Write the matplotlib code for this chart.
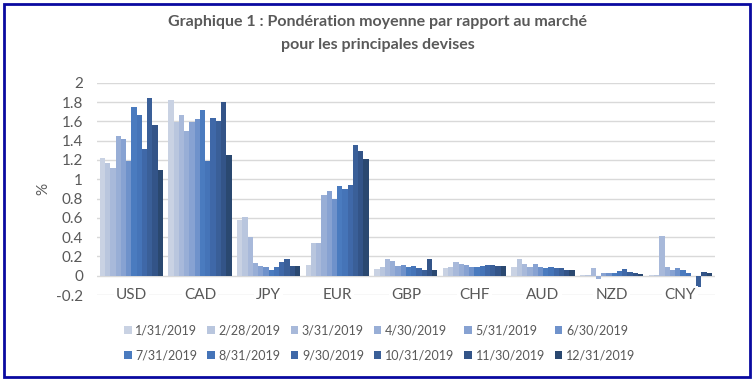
import matplotlib
matplotlib.use("Agg")
import matplotlib.pyplot as plt
import numpy as np
from matplotlib.patches import Rectangle

plt.rcParams["font.family"] = ["Lato", "DejaVu Sans"]

currencies = ["USD", "CAD", "JPY", "EUR", "GBP", "CHF", "AUD", "NZD", "CNY"]
dates = ["1/31/2019", "2/28/2019", "3/31/2019", "4/30/2019", "5/31/2019",
         "6/30/2019", "7/31/2019", "8/31/2019", "9/30/2019", "10/31/2019",
         "11/30/2019", "12/31/2019"]

# one list per currency, 12 months
usd = [1.22, 1.17, 1.12, 1.45, 1.42, 1.19, 1.75, 1.67, 1.31, 1.84, 1.56, 1.10]
cad = [1.82, 1.59, 1.67, 1.50, 1.59, 1.62, 1.72, 1.19, 1.63, 1.60, 1.80, 1.25]
jpy = [0.58, 0.61, 0.40, 0.13, 0.10, 0.09, 0.055, 0.09, 0.14, 0.17, 0.10, 0.10]
eur = [0.11, 0.34, 0.34, 0.84, 0.88, 0.80, 0.93, 0.90, 0.94, 1.35, 1.29, 1.21]
gbp = [0.07, 0.09, 0.17, 0.15, 0.10, 0.11, 0.09, 0.10, 0.08, 0.06, 0.17, 0.06]
chf = [0.08, 0.09, 0.14, 0.12, 0.11, 0.09, 0.09, 0.10, 0.11, 0.11, 0.10, 0.10]
aud = [0.09, 0.17, 0.12, 0.09, 0.12, 0.09, 0.08, 0.09, 0.08, 0.08, 0.06, 0.06]
nzd = [0.01, 0.01, 0.08, -0.03, 0.03, 0.03, 0.03, 0.05, 0.07, 0.04, 0.03, 0.02]
cny = [0.01, 0.01, 0.41, 0.09, 0.06, 0.08, 0.06, 0.03, 0.00, -0.12, 0.04, 0.03]

colors = ["#C9D2E3", "#B9C6DE", "#A8B9DA", "#98AED6", "#87A2D2", "#6F92CB",
          "#4A7BBF", "#4574B8", "#3F68A8", "#3A5F98", "#335488", "#2A4870"]

values = np.array([usd, cad, jpy, eur, gbp, chf, aud, nzd, cny])
text_color = "#595959"

fig = plt.figure(figsize=(7.55, 3.81), dpi=100)
ax = fig.add_axes([0.1285, 0.2257, 0.818, 0.557])

n = len(dates)
group_w = 0.92
w = group_w / n
x = np.arange(len(currencies))
handles = []
for i in range(n):
    b = ax.bar(x - group_w / 2 + w * (i + 0.5), values[:, i], w,
               color=colors[i], label=dates[i], linewidth=0, zorder=3)
    handles.append(b)

ax.set_xlim(-0.5, len(currencies) - 0.5)
ax.set_ylim(-0.2, 2)
ax.set_yticks(np.arange(-0.2, 2.01, 0.2))
ax.set_yticklabels(["-0.2", "0", "0.2", "0.4", "0.6", "0.8", "1", "1.2",
                    "1.4", "1.6", "1.8", "2"])
ax.tick_params(axis="y", length=0, pad=10, labelsize=11, colors=text_color)
ax.set_xticks([])
ax.grid(axis="y", color="#D9D9D9", linewidth=1, zorder=0)
for s in ax.spines.values():
    s.set_visible(False)

for xi, c in zip(x, currencies):
    ax.text(xi, -0.2, c, ha="center", va="center", fontsize=11,
            color=text_color, zorder=4,
            bbox=dict(facecolor="white", edgecolor="none", pad=1.5))

ax.set_ylabel("%", fontsize=11, color=text_color, labelpad=4)

fig.text(0.5, 0.942, "Graphique 1 : Pondération moyenne par rapport au marché",
         ha="center", va="center", fontsize=11.5, fontweight="bold",
         color=text_color)
fig.text(0.5, 0.882, "pour les principales devises",
         ha="center", va="center", fontsize=11.5, fontweight="bold",
         color=text_color)

# legend filled row by row: 6 per row
order = [0, 6, 1, 7, 2, 8, 3, 9, 4, 10, 5, 11]
fig.legend([handles[k] for k in order], [dates[k] for k in order],
           loc="center", bbox_to_anchor=(0.503, 0.1), ncol=6, frameon=False,
           fontsize=9, handlelength=0.6, handleheight=0.6,
           handletextpad=0.3, columnspacing=0.8, labelspacing=1.0,
           labelcolor=text_color)

fig.patches.append(Rectangle((0.005, 0.01), 0.989, 0.98,
                             transform=fig.transFigure, fill=False,
                             edgecolor="#0A0AA0", linewidth=2))

fig.savefig("out.png", dpi=100)
